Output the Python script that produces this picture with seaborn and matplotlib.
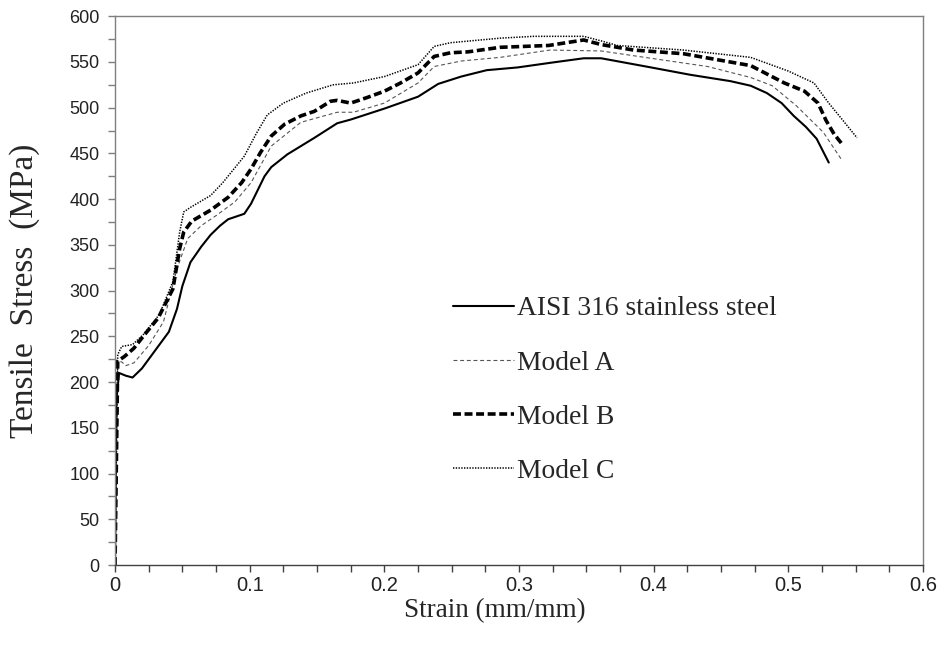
import matplotlib
matplotlib.use("Agg")
import matplotlib.pyplot as plt
from matplotlib.ticker import MultipleLocator
import seaborn as sns

# strain / stress
steel_x = [0, 0.001, 0.003, 0.008, 0.013, 0.020, 0.030, 0.040, 0.046, 0.050, 0.056, 0.064, 0.071,
           0.078, 0.084, 0.090, 0.096, 0.101, 0.106, 0.111, 0.116, 0.128, 0.148, 0.165, 0.175,
           0.200, 0.225, 0.240, 0.257, 0.276, 0.299, 0.323, 0.348, 0.361, 0.398, 0.427, 0.457,
           0.472, 0.484, 0.495, 0.504, 0.513, 0.521, 0.530]
steel_y = [0, 180, 210, 207, 205, 215, 235, 255, 280, 305, 331, 348, 361,
           371, 378, 381, 384, 395, 410, 425, 435, 449, 467, 483, 487,
           499, 512, 526, 534, 541, 544, 549, 554, 554, 544, 536, 529,
           524, 516, 505, 491, 479, 466, 440]

model_a_x = [0, 0.002, 0.005, 0.008, 0.014, 0.025, 0.036, 0.046, 0.054, 0.064, 0.075, 0.089,
             0.101, 0.116, 0.138, 0.165, 0.177, 0.200, 0.225, 0.237, 0.257, 0.286, 0.323,
             0.361, 0.398, 0.440, 0.472, 0.488, 0.506, 0.526, 0.540]
model_a_y = [0, 223, 222, 218, 221, 240, 266, 324, 357, 371, 382, 397,
             418, 458, 484, 495, 495, 505, 527, 545, 551, 555, 563,
             562, 554, 545, 533, 524, 502, 473, 442]

model_b_x = [0, 0.002, 0.007, 0.014, 0.022, 0.032, 0.043, 0.048, 0.051, 0.057, 0.064, 0.071,
             0.084, 0.094, 0.101, 0.108, 0.116, 0.126, 0.138, 0.148, 0.160, 0.165, 0.175,
             0.187, 0.200, 0.212, 0.225, 0.237, 0.249, 0.262, 0.286, 0.322, 0.348, 0.361,
             0.385, 0.422, 0.472, 0.497, 0.512, 0.522, 0.528, 0.534, 0.540]
model_b_y = [0, 223, 228, 237, 252, 270, 302, 346, 364, 376, 382, 388,
             402, 418, 433, 451, 469, 482, 491, 496, 507, 508, 505,
             511, 518, 527, 538, 556, 560, 561, 566, 568, 574, 569,
             563, 559, 546, 527, 518, 505, 486, 471, 460]

model_c_x = [0, 0.002, 0.005, 0.013, 0.021, 0.033, 0.043, 0.048, 0.051, 0.056, 0.071, 0.080,
             0.096, 0.105, 0.113, 0.125, 0.142, 0.162, 0.177, 0.200, 0.225, 0.237, 0.249,
             0.286, 0.311, 0.348, 0.361, 0.373, 0.422, 0.472, 0.500, 0.519, 0.530, 0.540, 0.551]
model_c_y = [0, 230, 239, 241, 252, 274, 310, 364, 386, 391, 404, 418,
             447, 472, 492, 505, 516, 525, 527, 534, 547, 567, 571,
             576, 578, 578, 573, 568, 563, 555, 540, 527, 505, 487, 467]

labels = ["AISI 316 stainless steel", "Model A", "Model B", "Model C"]
xtick_vals = [0, 0.1, 0.2, 0.3, 0.4, 0.5, 0.6]
xtick_text = ["0", "0.1", "0.2", "0.3", "0.4", "0.5", "0.6"]

sns.set_style("ticks")
serif = "Liberation Serif"

fig = plt.figure(figsize=(9.39, 6.48), dpi=100)
ax = fig.add_axes([0.1225, 0.128, 0.8605, 0.847])

sns.lineplot(x=steel_x, y=steel_y, ax=ax, color="black", lw=1.5, label=labels[0], sort=False)
sns.lineplot(x=model_a_x, y=model_a_y, ax=ax, color="#555555", lw=0.8, label=labels[1], sort=False)
sns.lineplot(x=model_b_x, y=model_b_y, ax=ax, color="black", lw=2.6, label=labels[2], sort=False)
sns.lineplot(x=model_c_x, y=model_c_y, ax=ax, color="black", lw=1.1, label=labels[3], sort=False)

lines = ax.get_lines()
lines[1].set_dashes([3.5, 2.5])
lines[2].set_dashes([2.2, 1.0])
lines[3].set_dashes([0.9, 0.9])

ax.set_xlim(0, 0.6)
ax.set_ylim(0, 600)
ax.set_xticks(xtick_vals)
ax.set_xticklabels(xtick_text)
ax.xaxis.set_minor_locator(MultipleLocator(0.025))
ax.yaxis.set_major_locator(MultipleLocator(50))
ax.yaxis.set_minor_locator(MultipleLocator(25))

for s in ax.spines.values():
    s.set_color("#7f7f7f")
    s.set_linewidth(1.0)
ax.spines["bottom"].set_color("#404040")
ax.tick_params(which="both", direction="out", length=5, width=1, color="#7f7f7f")
ax.tick_params(axis="x", which="both", color="#404040", labelsize=14.5, pad=3)
ax.tick_params(axis="y", labelsize=13, pad=6)
for t in ax.get_xticklabels() + ax.get_yticklabels():
    t.set_fontfamily("Liberation Sans")
    t.set_color("#222222")

ax.set_xlabel("Strain (mm/mm)", fontsize=19.5, family=serif)
ax.xaxis.set_label_coords(0.47, -0.06)
ax.set_ylabel("Tensile  Stress  (MPa)", fontsize=24, family=serif)
ax.yaxis.set_label_coords(-0.093, 0.5)

leg = ax.legend(loc="upper left", bbox_to_anchor=(0.405, 0.51), frameon=False,
                prop={"family": serif, "size": 19.8}, handlelength=2.2, handletextpad=0.12,
                labelspacing=1.05, borderaxespad=0)

fig.savefig("out.png", dpi=100)
